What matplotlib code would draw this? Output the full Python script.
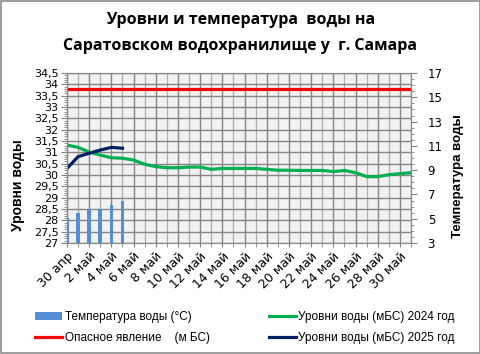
import matplotlib.pyplot as plt
from matplotlib.ticker import MultipleLocator, FuncFormatter
from matplotlib.patches import Rectangle

# даты: 30 апр .. 31 май
dias = ["30 апр"] + [f"{d} май" for d in range(1, 32)]

nivel_2024 = [31.32, 31.22, 31.01, 30.88, 30.76, 30.74, 30.66, 30.47, 30.37, 30.32,
              30.32, 30.35, 30.35, 30.25, 30.29, 30.29, 30.29, 30.29, 30.25, 30.21,
              30.21, 30.20, 30.20, 30.20, 30.15, 30.20, 30.10, 29.93, 29.93, 30.01,
              30.06, 30.10]
nivel_2025 = [30.29, 30.81, 30.96, 31.10, 31.22, 31.18]
temperatura = [5.1, 5.5, 5.8, 5.8, 6.1, 6.5]
peligro = [33.8] * len(dias)

plt.rcParams['font.family'] = ['DejaVu Sans']

fig = plt.figure(figsize=(4.81, 3.54), dpi=100)
fig.add_artist(Rectangle((0.002, 0.003), 0.996, 0.994, transform=fig.transFigure,
                         fill=False, edgecolor='#8c8c8c', linewidth=1.2))

ax = fig.add_axes([67/481, 1-243/354, (411-67)/481, (243-73)/354])
ax.patch.set_facecolor('#f2f2f2')
ax2 = ax.twinx()

x = list(range(len(dias)))

ax2.bar(x[:len(temperatura)], [t - 3 for t in temperatura], bottom=3, width=0.33,
        color='#558ed5', label='Температура воды (°C)')
ax.plot(x, peligro, color='#ff0000', lw=2.3, label='Опасное явление    (м БС)')
ax.plot(x, nivel_2024, color='#00b050', lw=2.3, label='Уровни воды (мБС) 2024 год')
ax.plot(x[:len(nivel_2025)], nivel_2025, color='#002060', lw=2.3,
        label='Уровни воды (мБС) 2025 год')

ax.set_xlim(0, len(dias) - 1)
ax.set_ylim(27, 34.5)
ax2.set_ylim(3, 17)

ax.yaxis.set_major_locator(MultipleLocator(0.5))
ax.yaxis.set_minor_locator(MultipleLocator(0.1))
ax.yaxis.set_major_formatter(FuncFormatter(lambda v, p: f"{v:g}".replace('.', ',')))
ax2.set_yticks(range(3, 18, 2))
ax2.yaxis.set_minor_locator(MultipleLocator(0.5))

# подписи через день, промежуточные дни - светлая сетка
ax.set_xticks(x[::2])
ax.set_xticklabels(dias[::2], rotation=45, ha='right', rotation_mode='anchor', fontsize=9)
ax.set_xticks(x[1::2], minor=True)
ax.tick_params(axis='x', which='both', length=3, color='#808080', pad=2)
ax.tick_params(axis='y', which='major', length=4, color='#808080', labelsize=8, pad=2)
ax.tick_params(axis='y', which='minor', length=2, color='#808080')
ax2.tick_params(axis='y', which='major', length=4, color='#808080', labelsize=8.5, pad=8)
ax2.tick_params(axis='y', which='minor', length=2, color='#808080')

ax.grid(True, which='major', color='#858585', lw=1)
ax.grid(True, which='minor', axis='x', color='#b0b0b0', lw=1)
ax.set_axisbelow(True)
for a in (ax, ax2):
    for s in a.spines.values():
        s.set_color('#8a8a8a')

fig.text(0.5, 1-20/354, 'Уровни и температура  воды на', ha='center', va='center',
         fontsize=11.5, fontweight='bold', family='Open Sans')
fig.text(0.5, 1-46/354, 'Саратовском водохранилище у  г. Самара', ha='center',
         va='center', fontsize=11.5, fontweight='bold', family='Open Sans')
fig.text(18/481, 1-185/354, 'Уровни воды', rotation=90, ha='center', va='center',
         fontsize=10, fontweight='bold', family='Liberation Sans')
fig.text(458/481, 1-176/354, 'Температура воды', rotation=90, ha='center', va='center',
         fontsize=9.5, fontweight='bold', family='Liberation Sans')

h1, l1 = ax2.get_legend_handles_labels()
h2, l2 = ax.get_legend_handles_labels()
fig.legend(h1 + h2, l1 + l2, ncol=2, loc='upper left',
           bbox_to_anchor=(35/481, 1-311/354), frameon=False,
           prop={'family': 'Liberation Sans', 'size': 8.5},
           handlelength=2.3, handletextpad=0.2, columnspacing=5.0,
           labelspacing=0.75, borderpad=0, borderaxespad=0)

fig.savefig('out.png', dpi=100)
